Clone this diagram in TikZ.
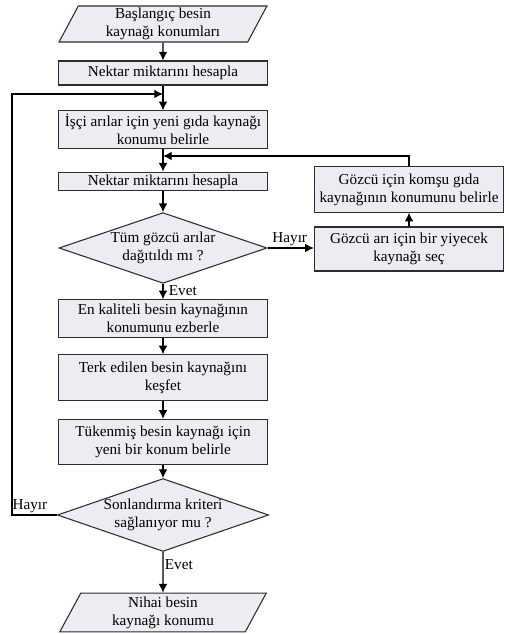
\documentclass[tikz,border=0pt]{standalone}
\usepackage{fontspec}
\setmainfont{Liberation Serif}
\usetikzlibrary{arrows.meta,calc,shapes.geometric,positioning}
\definecolor{boxfill}{RGB}{236,236,242}
\definecolor{boxline}{RGB}{45,45,45}

\begin{document}
\begin{tikzpicture}[x=0.75pt,y=-0.75pt,
    every node/.style={font=\fontsize{11.4pt}{13.6pt}\selectfont},
    proc/.style={draw=boxline,fill=boxfill,line width=0.8pt,rectangle,align=center,
      minimum width=157pt,inner sep=1pt},
    side/.style={proc,minimum width=142pt},
    dec/.style={draw=boxline,fill=boxfill,line width=0.8pt,diamond,aspect=2.9,align=center,
      inner sep=0pt},
    io/.style={draw=boxline,fill=boxfill,line width=0.8pt,trapezium,trapezium left angle=69,
      trapezium right angle=111,trapezium stretches=true,align=center,
      minimum width=156pt,inner sep=1pt},
    flow/.style={line width=0.9pt,-{Latex[length=6.5pt,width=6.5pt]}},
    lbl/.style={inner sep=1pt}]
    %% Fix the page size
    \useasboundingbox (0,0) rectangle (509,634);
    %% Main column
    \node[io,minimum height=27pt] (start) at (163,24) {Başlangıç besin\\kaynağı konumları};
    \node[proc,minimum height=18pt] (nek1) at (163,73) {Nektar miktarını hesapla};
    \node[proc,minimum height=28pt] (isci) at (163,129.5) {İşçi arılar için yeni gıda kaynağı\\konumu belirle};
    \node[proc,minimum height=14pt] (nek2) at (163,181.5) {Nektar miktarını hesapla};
    \node[dec,minimum width=156pt,minimum height=53pt] (tum) at (163,248) {Tüm gözcü arılar\\dağıtıldı mı ?};
    \node[proc,minimum height=28pt] (enkal) at (163,318.5) {En kaliteli besin kaynağının\\konumunu ezberle};
    \node[proc,minimum height=34pt] (terk) at (163,377.5) {Terk edilen besin kaynağını\\keşfet};
    \node[proc,minimum height=34pt] (tuk) at (163,442) {Tükenmiş besin kaynağı için\\yeni bir konum belirle};
    \node[dec,minimum width=157pt,minimum height=51pt] (son) at (163,515) {Sonlandırma kriteri\\sağlanıyor mu ?};
    \node[io,minimum height=29pt] (nihai) at (163,612.5) {Nihai besin\\kaynağı konumu};
    %% Right column
    \node[side,minimum height=33pt] (secc) at (409,249) {Gözcü arı için bir yiyecek\\kaynağı seç};
    \node[side,minimum height=34pt] (komsu) at (409,189.5) {Gözcü için komşu gıda\\kaynağının konumunu belirle};
    %% Merge points and loop corner
    \coordinate (mrgA) at (163,94);
    \coordinate (mrgB) at (163,156);
    \coordinate (loopL) at (12,94);
    %% Connectors
    \draw[flow] (start) -- (nek1);
    \draw[flow] (nek1) -- (isci);
    \draw[flow] (isci) -- (nek2);
    \draw[flow] (nek2) -- (tum);
    \draw[flow] (tum) -- node[lbl,right,pos=0.45,xshift=3pt] {Evet} (enkal);
    \draw[flow] (enkal) -- (terk);
    \draw[flow] (terk) -- (tuk);
    \draw[flow] (tuk) -- (son);
    \draw[flow] (son) -- node[lbl,right,pos=0.3] {Evet} (nihai);
    \draw[flow] (tum.east) -- node[lbl,above,pos=0.48] {Hayır} (tum.east -| secc.west);
    \draw[flow] (secc) -- (komsu);
    \draw[flow] (komsu.north) |- (mrgB);
    \draw[flow] (son.west) -| node[lbl,above,pos=0.3] {Hayır} (loopL) -- (mrgA);
  \end{tikzpicture}
\end{document}
